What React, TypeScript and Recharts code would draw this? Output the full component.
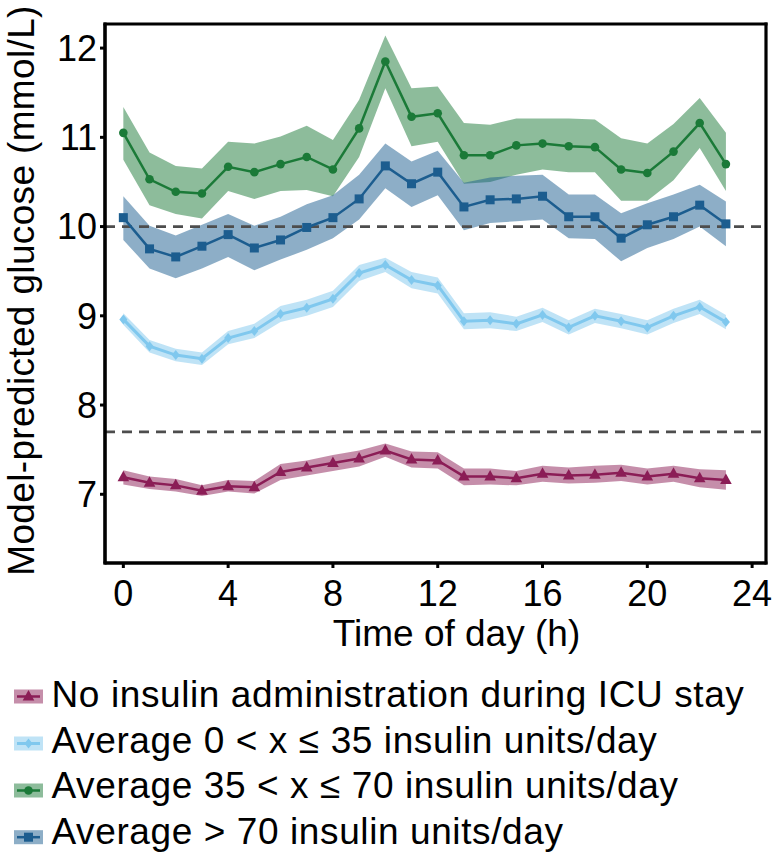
import React from 'react';
import {
  ComposedChart,
  Line,
  Area,
  XAxis,
  YAxis,
  ReferenceLine,
} from 'recharts';

const hours = [0, 1, 2, 3, 4, 5, 6, 7, 8, 9, 10, 11, 12, 13, 14, 15, 16, 17, 18, 19, 20, 21, 22, 23];

const noInsMean = [7.19, 7.13, 7.10, 7.04, 7.09, 7.08, 7.25, 7.30, 7.35, 7.40, 7.49, 7.39, 7.38, 7.20, 7.20, 7.18, 7.23, 7.21, 7.22, 7.24, 7.20, 7.23, 7.18, 7.16];
const noInsLo = [7.11, 7.06, 7.03, 6.98, 7.03, 7.01, 7.16, 7.21, 7.26, 7.31, 7.42, 7.30, 7.29, 7.10, 7.11, 7.10, 7.14, 7.12, 7.13, 7.15, 7.11, 7.14, 7.08, 7.05];
const noInsHi = [7.27, 7.20, 7.17, 7.10, 7.16, 7.15, 7.34, 7.38, 7.44, 7.49, 7.57, 7.48, 7.47, 7.29, 7.29, 7.26, 7.32, 7.30, 7.32, 7.33, 7.29, 7.32, 7.28, 7.27];

const lowMean = [8.96, 8.66, 8.56, 8.52, 8.75, 8.83, 9.02, 9.09, 9.19, 9.48, 9.57, 9.40, 9.34, 8.94, 8.95, 8.91, 9.01, 8.87, 9.00, 8.94, 8.87, 9.00, 9.10, 8.93];
const lowLo = [8.90, 8.59, 8.49, 8.45, 8.68, 8.75, 8.93, 9.00, 9.10, 9.39, 9.49, 9.31, 9.25, 8.85, 8.86, 8.83, 8.93, 8.79, 8.92, 8.86, 8.79, 8.92, 9.02, 8.85];
const lowHi = [9.03, 8.73, 8.63, 8.59, 8.83, 8.91, 9.11, 9.18, 9.28, 9.57, 9.65, 9.49, 9.43, 9.03, 9.04, 8.99, 9.09, 8.95, 9.08, 9.02, 8.95, 9.08, 9.18, 9.01];

const midMean = [11.05, 10.53, 10.39, 10.37, 10.67, 10.61, 10.70, 10.78, 10.64, 11.10, 11.85, 11.23, 11.27, 10.80, 10.80, 10.91, 10.93, 10.90, 10.89, 10.64, 10.60, 10.84, 11.16, 10.70];
const midLo = [10.75, 10.24, 10.14, 10.09, 10.40, 10.31, 10.40, 10.41, 10.34, 10.78, 11.55, 10.90, 10.95, 10.48, 10.50, 10.58, 10.64, 10.61, 10.61, 10.29, 10.29, 10.52, 10.88, 10.40];
const midHi = [11.34, 10.83, 10.68, 10.65, 10.95, 10.93, 11.01, 11.13, 10.97, 11.42, 12.14, 11.55, 11.57, 11.16, 11.14, 11.21, 11.21, 11.21, 11.20, 10.99, 10.93, 11.15, 11.44, 11.05];

const highMean = [10.10, 9.75, 9.66, 9.78, 9.91, 9.76, 9.85, 9.99, 10.10, 10.31, 10.68, 10.48, 10.61, 10.22, 10.30, 10.31, 10.34, 10.11, 10.11, 9.87, 10.02, 10.11, 10.24, 10.03];
const highLo = [9.85, 9.53, 9.42, 9.53, 9.66, 9.51, 9.63, 9.74, 9.87, 10.08, 10.43, 10.22, 10.35, 9.96, 10.04, 10.06, 10.08, 9.87, 9.86, 9.61, 9.76, 9.86, 10.00, 9.78];
const highHi = [10.34, 10.01, 9.90, 10.02, 10.14, 10.01, 10.11, 10.25, 10.35, 10.58, 10.93, 10.73, 10.85, 10.49, 10.55, 10.57, 10.58, 10.36, 10.36, 10.15, 10.26, 10.36, 10.47, 10.28];

const xTicks = [0, 4, 8, 12, 16, 20, 24];
const yTicks = [7, 8, 9, 10, 11, 12];
const thresholds = [10, 7.7];

const legendLabels = [
  'No insulin administration during ICU stay',
  'Average 0 < x \u2264 35 insulin units/day',
  'Average 35 < x \u2264 70 insulin units/day',
  'Average > 70 insulin units/day',
];

const X_DOMAIN: [number, number] = [-0.7, 24.53];
const Y_DOMAIN: [number, number] = [6.23, 12.27];

const CHART_W = 778;
const CHART_H = 860;
const MARGIN = { top: 24, right: 12, left: 0, bottom: 207 };
const Y_AXIS_W = 105;
const X_AXIS_H = 90;
const PLOT = {
  left: MARGIN.left + Y_AXIS_W,
  top: MARGIN.top,
  right: CHART_W - MARGIN.right,
  bottom: CHART_H - MARGIN.bottom - X_AXIS_H,
};

const PURPLE = '#8b1d56';
const LIGHT = '#80c8ee';
const GREEN = '#1b7a38';
const BLUE = '#1c5d8f';
const FONT = '"Liberation Sans", Arial, Helvetica, sans-serif';

const rows = hours.map((h, i) => ({
  hour: h,
  noIns: noInsMean[i],
  noInsBand: [noInsLo[i], noInsHi[i]],
  low: lowMean[i],
  lowBand: [lowLo[i], lowHi[i]],
  mid: midMean[i],
  midBand: [midLo[i], midHi[i]],
  high: highMean[i],
  highBand: [highLo[i], highHi[i]],
}));

type Shape = 'tri' | 'diamond' | 'circle' | 'square';

function marker(shape: Shape, cx: number, cy: number, color: string, key?: string) {
  if (cx == null || cy == null || isNaN(cx) || isNaN(cy)) return <g key={key} />;
  switch (shape) {
    case 'tri':
      return <path key={key} d={`M${cx},${cy - 6.5} L${cx + 5.8},${cy + 4} L${cx - 5.8},${cy + 4} Z`} fill={color} />;
    case 'diamond':
      return <path key={key} d={`M${cx},${cy - 5} L${cx + 4},${cy} L${cx},${cy + 5} L${cx - 4},${cy} Z`} fill={color} />;
    case 'circle':
      return <circle key={key} cx={cx} cy={cy} r={4.3} fill={color} />;
    case 'square':
    default:
      return <rect key={key} x={cx - 4.5} y={cy - 4.5} width={9} height={9} fill={color} />;
  }
}

const makeDot = (shape: Shape, color: string) => (p: any) =>
  marker(shape, p.cx, p.cy, color, `${shape}-${p.index}`);

const series: { key: string; band: string; color: string; shape: Shape; width: number }[] = [
  { key: 'noIns', band: 'noInsBand', color: PURPLE, shape: 'tri', width: 2.5 },
  { key: 'low', band: 'lowBand', color: LIGHT, shape: 'diamond', width: 3 },
  { key: 'mid', band: 'midBand', color: GREEN, shape: 'circle', width: 2.5 },
  { key: 'high', band: 'highBand', color: BLUE, shape: 'square', width: 2.5 },
];

const YLabel = (props: any) => {
  const vb = props.viewBox || { x: 0, y: 24, width: 105, height: 539 };
  const cx = 34;
  const cy = vb.y + vb.height / 2 - 3;
  return (
    <text
      x={cx}
      y={cy}
      transform={`rotate(-90, ${cx}, ${cy})`}
      textAnchor="middle"
      fontSize={37}
      letterSpacing={0.35}
      fontFamily={FONT}
      fill="#000"
    >
      Model-predicted glucose (mmol/L)
    </text>
  );
};

const XLabel = (props: any) => {
  const vb = props.viewBox || { x: 105, y: 563, width: 661, height: 90 };
  return (
    <text
      x={vb.x + vb.width / 2 + 21}
      y={vb.y + 83}
      textAnchor="middle"
      fontSize={37}
      fontFamily={FONT}
      fill="#000"
    >
      Time of day (h)
    </text>
  );
};

const swatchCenters = [696.5, 743.5, 790.5, 837.2];
const textBaselines = [707, 753, 798, 844];

function Overlay() {
  return (
    <svg
      width={CHART_W}
      height={CHART_H}
      style={{ position: 'absolute', left: 0, top: 0, pointerEvents: 'none' }}
    >
      <line x1={PLOT.left - 1.5} x2={PLOT.right + 1.5} y1={PLOT.top} y2={PLOT.top} stroke="#000000" strokeWidth={3.2} />
      <line x1={PLOT.right} x2={PLOT.right} y1={PLOT.top - 1.5} y2={PLOT.bottom + 1.5} stroke="#000000" strokeWidth={3.2} />
      <line x1={PLOT.left - 1.5} x2={PLOT.right + 1.5} y1={PLOT.bottom} y2={PLOT.bottom} stroke="#000000" strokeWidth={3.2} />
      <line x1={PLOT.left} x2={PLOT.left} y1={PLOT.top - 1.5} y2={PLOT.bottom + 1.5} stroke="#000000" strokeWidth={3.2} />
      {series.map((s, i) => {
        const cy = swatchCenters[i];
        return (
          <g key={s.key}>
            <rect x={14} y={cy - 7} width={29} height={14} fill={s.color} fillOpacity={0.5} />
            <line x1={17} x2={40} y1={cy} y2={cy} stroke={s.color} strokeWidth={s.width} />
            {marker(s.shape, 28.5, cy, s.color)}
            <text
              x={51.5}
              y={textBaselines[i]}
              fontSize={37}
              letterSpacing={0.6}
              fontFamily={FONT}
              fill="#000"
            >
              {legendLabels[i]}
            </text>
          </g>
        );
      })}
    </svg>
  );
}

const frameLine = { stroke: '#000', strokeWidth: 3 };

export default function App() {
  return (
    <div style={{ position: 'absolute', left: 0, top: 0, width: CHART_W, height: CHART_H, background: '#fff' }}>
      <ComposedChart width={CHART_W} height={CHART_H} data={rows} margin={MARGIN}>
        <XAxis
          dataKey="hour"
          type="number"
          domain={X_DOMAIN}
          ticks={xTicks}
          allowDataOverflow
          height={X_AXIS_H}
          tickSize={5}
          tickMargin={12}
          axisLine={frameLine}
          tickLine={{ stroke: '#000', strokeWidth: 3 }}
          tick={{ fill: '#000', fontSize: 36, fontFamily: FONT }}
          label={{ content: XLabel }}
        />
        <YAxis
          type="number"
          domain={Y_DOMAIN}
          ticks={yTicks}
          allowDataOverflow
          width={Y_AXIS_W}
          tickSize={5}
          tickMargin={3}
          axisLine={frameLine}
          tickLine={{ stroke: '#000', strokeWidth: 3 }}
          tick={{ fill: '#000', fontSize: 36, fontFamily: FONT }}
          label={{ content: YLabel }}
        />
        {series.map((s) => (
          <Area
            key={s.band}
            dataKey={s.band}
            type="linear"
            stroke="none"
            fill={s.color}
            fillOpacity={0.5}
            isAnimationActive={false}
            activeDot={false}
            dot={false}
          />
        ))}
        {thresholds.map((t) => (
          <ReferenceLine
            key={t}
            y={t}
            stroke="#4d4d4d"
            strokeWidth={2.7}
            strokeDasharray="10 7"
          />
        ))}
        {series.map((s) => (
          <Line
            key={s.key}
            dataKey={s.key}
            type="linear"
            stroke={s.color}
            strokeWidth={s.width}
            dot={makeDot(s.shape, s.color)}
            activeDot={false}
            isAnimationActive={false}
          />
        ))}
      </ComposedChart>
      <Overlay />
    </div>
  );
}
